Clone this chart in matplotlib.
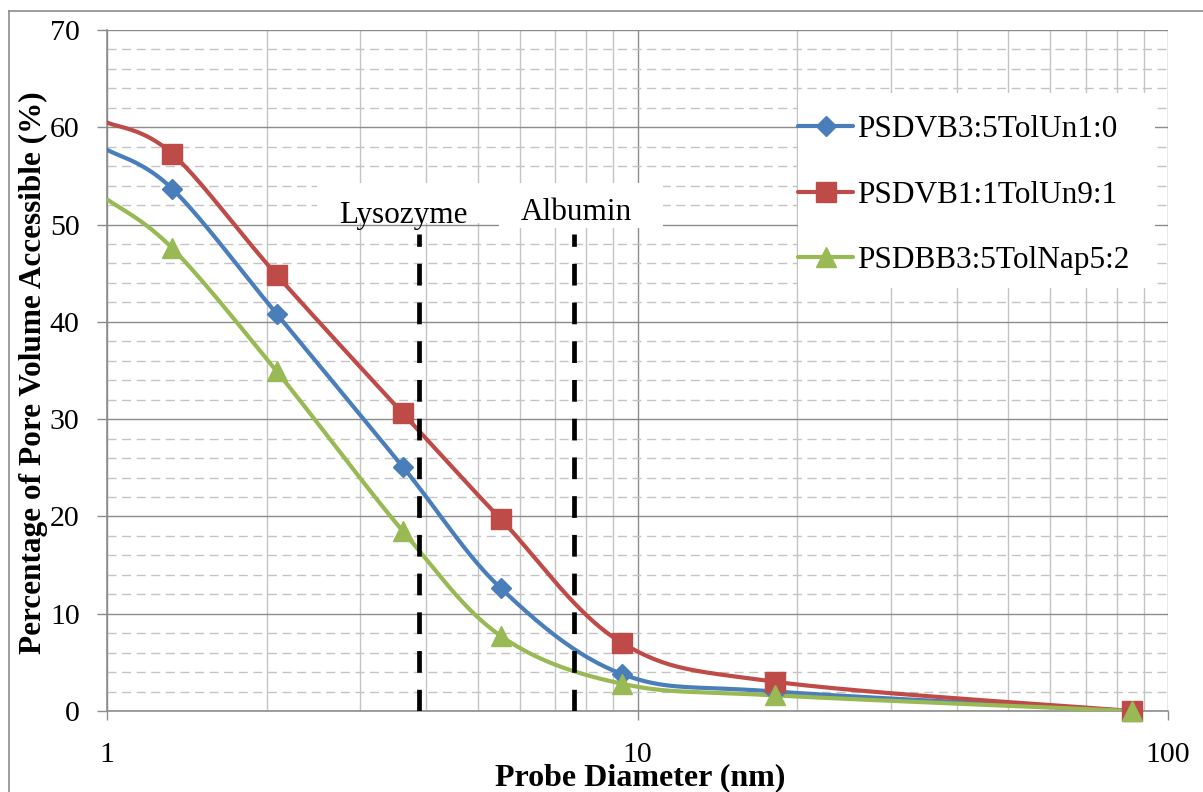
import numpy as np
import matplotlib
matplotlib.use("Agg")
import matplotlib.pyplot as plt
from matplotlib.lines import Line2D
from matplotlib.patches import Rectangle
from matplotlib.ticker import FixedLocator, NullFormatter

plt.rcParams['font.family'] = ['Liberation Serif', 'DejaVu Serif']

# Probe diameters (nm) and accessible pore volume (%) for each resin
diameters = [1.0, 1.326, 2.09, 3.61, 5.53, 9.35, 18.2, 85.5]
series_names = ["PSDVB3:5TolUn1:0", "PSDVB1:1TolUn9:1", "PSDBB3:5TolNap5:2"]
psdvb_35 = [57.7, 53.7, 40.8, 25.1, 12.6, 3.8, 2.0, 0.0]
psdvb_11 = [60.5, 57.3, 44.8, 30.6, 19.7, 7.0, 3.0, 0.0]
psdbb_35 = [52.6, 47.6, 34.9, 18.5, 7.7, 2.8, 1.6, 0.0]

# Protein reference diameters (nm)
protein_names = ["Lysozyme", "Albumin"]
protein_diameters = [3.88, 7.59]
protein_line_top = 49.0

x_ticks = [1, 10, 100]
x_tick_labels = ["1", "10", "100"]
y_ticks = [0, 10, 20, 30, 40, 50, 60, 70]

colors = ["#4A7EBB", "#BE4B48", "#98B954"]
markers = [("D", 10.5), ("s", 14.0), ("^", 14.0)]


def smooth_curve(xs, ys, n=40):
    """Catmull-Rom style smoothing in (log10 x, y) space."""
    u = np.log10(np.asarray(xs, float))
    v = np.asarray(ys, float)
    pts = np.column_stack([u, v])
    ext = np.vstack([pts[0], pts, pts[-1]])
    out = []
    t = np.linspace(0, 1, n)[:, None]
    for i in range(len(pts) - 1):
        p0, p1, p2, p3 = ext[i], ext[i + 1], ext[i + 2], ext[i + 3]
        c1 = p1 + (p2 - p0) / 6.0
        c2 = p2 - (p3 - p1) / 6.0
        seg = ((1 - t) ** 3) * p1 + 3 * ((1 - t) ** 2) * t * c1 + 3 * (1 - t) * t ** 2 * c2 + t ** 3 * p2
        out.append(seg if i == 0 else seg[1:])
    out = np.vstack(out)
    return 10 ** out[:, 0], out[:, 1]


fig = plt.figure(figsize=(12.03, 7.92), dpi=100)
W, H = 1203, 792
ax = fig.add_axes([107 / W, 1 - 711 / H, (1168 - 107) / W, (711 - 30) / H])

ax.set_xscale("log")
ax.set_xlim(1, 100)
ax.set_ylim(0, 70)

# grid
major_gray = "#8C8C8C"
minor_gray = "#C4C4C4"
ax.xaxis.set_major_locator(FixedLocator(x_ticks))
ax.xaxis.set_minor_locator(FixedLocator([k * d for d in (1, 10) for k in range(2, 10)]))
ax.xaxis.set_minor_formatter(NullFormatter())
ax.set_xticks(x_ticks, labels=x_tick_labels)
ax.yaxis.set_major_locator(FixedLocator(y_ticks))
ax.yaxis.set_minor_locator(FixedLocator([v for v in range(2, 70, 2) if v % 10]))

ax.grid(which="major", axis="both", color=major_gray, linewidth=1.0, zorder=0)
ax.grid(which="minor", axis="x", color=minor_gray, linewidth=1.0, zorder=0)
ax.grid(which="minor", axis="y", color=minor_gray, linewidth=1.0,
        linestyle=(0, (6.5, 4)), zorder=0)
ax.set_axisbelow(True)

for side in ("top", "right"):
    ax.spines[side].set_visible(False)
for side in ("left", "bottom"):
    ax.spines[side].set_color(major_gray)
    ax.spines[side].set_linewidth(1.2)

ax.tick_params(axis="y", which="major", direction="out", length=7.2, width=1.0,
               color=major_gray, pad=12.5, labelsize=21.5)
ax.tick_params(axis="x", which="major", direction="out", length=6.5, width=1.0,
               color=major_gray, pad=16.0, labelsize=21.5)
ax.tick_params(which="minor", length=0)

# white label boxes for the protein markers
ax.add_patch(Rectangle((0.1979, 0.7166), 0.1715, 0.0587, transform=ax.transAxes,
                       facecolor="white", edgecolor="none", zorder=1.5))
ax.add_patch(Rectangle((0.3695, 0.7093), 0.1546, 0.0661, transform=ax.transAxes,
                       facecolor="white", edgecolor="none", zorder=1.5))
ax.text(0.279, 0.7166, protein_names[0], transform=ax.transAxes, ha="center",
        va="baseline", fontsize=22.5, zorder=2)
ax.text(0.442, 0.721, protein_names[1], transform=ax.transAxes, ha="center",
        va="baseline", fontsize=22.5, zorder=2)

# data series
all_series = [psdvb_35, psdvb_11, psdbb_35]
handles = []
for vals, col, (mk, ms), name in zip(all_series, colors, markers, series_names):
    sx, sy = smooth_curve(diameters, vals)
    ax.plot(sx, sy, color=col, linewidth=3.0, solid_capstyle="round", zorder=3,
            clip_on=True)
    ax.plot(diameters[1:], vals[1:], linestyle="none", marker=mk, markersize=ms,
            color=col, markeredgecolor=col, zorder=4, clip_on=False)
    handles.append(Line2D([], [], color=col, linewidth=3.0, marker=mk,
                          markersize=ms, solid_capstyle="round", label=name))

# protein diameter reference lines
for d in protein_diameters:
    ax.plot([d, d], [0, protein_line_top], color="black", linewidth=3.4,
            linestyle=(0, (4.6, 3.6)), zorder=5)

# legend
ax.add_patch(Rectangle((0.6513, 0.6211), 0.3365, 0.2863, transform=ax.transAxes,
                       facecolor="white", edgecolor="none", zorder=6))
leg = ax.legend(handles=handles, loc="upper left", bbox_to_anchor=(0.6513, 0.875),
                frameon=False, fontsize=22.5, handlelength=1.76, handletextpad=0.12,
                labelspacing=1.17, borderpad=0.0, borderaxespad=0.0)
leg.set_zorder(7)

ax.set_xlabel("Probe Diameter (nm)", fontsize=23, fontweight="bold")
ax.xaxis.set_label_coords(0.5024, -0.1087)
ax.xaxis.label.set_verticalalignment("baseline")
ax.set_ylabel("Percentage of Pore Volume Accessible (%)", fontsize=22.5,
              fontweight="bold")
ax.yaxis.set_label_coords(-0.0690, 0.4963)
ax.yaxis.label.set_verticalalignment("center")

# outer chart frame
fig.add_artist(Line2D([9 / W, 9 / W], [0, 1 - 11 / H], transform=fig.transFigure,
                      color=major_gray, linewidth=1.2))
fig.add_artist(Line2D([9 / W, 1], [1 - 11 / H, 1 - 11 / H], transform=fig.transFigure,
                      color=major_gray, linewidth=1.2))

fig.savefig("out.png", dpi=100)
